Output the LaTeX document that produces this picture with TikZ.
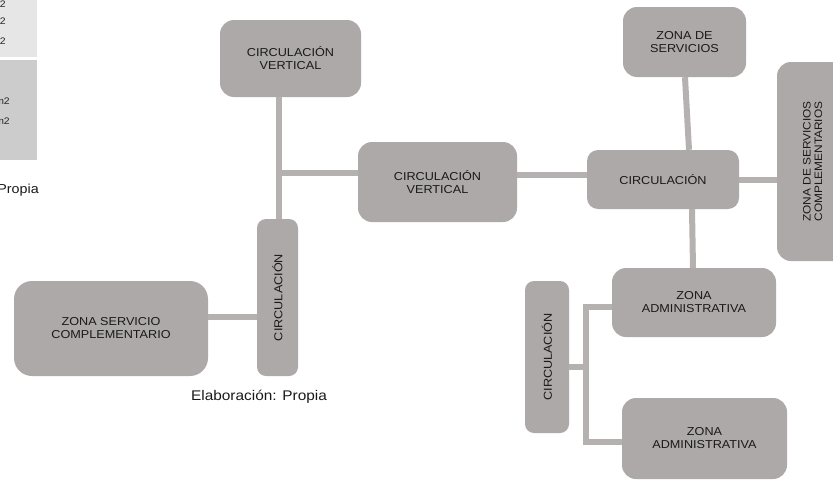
\documentclass[tikz,border=0pt]{standalone}
\usepackage{fontspec}
\setmainfont{Liberation Sans}[FakeStretch=1.1]
\usepackage{graphicx}
\definecolor{boxgray}{HTML}{ADA9A8}
\definecolor{linegray}{HTML}{B5B1B0}
\definecolor{tablelight}{HTML}{E6E6E6}
\definecolor{tabledark}{HTML}{CCCCCC}
\tikzset{
  zone/.style={fill=boxgray, draw=none, rounded corners=14pt, align=center,
    inner sep=0pt, font=\fontsize{11.5}{13}\selectfont, text=black!90},
  link/.style={draw=linegray, line width=6pt},
  caption/.style={font=\fontsize{14}{16}\selectfont, text=black!90},
  cell/.style={font=\fontsize{9.5}{11}\selectfont, text=black!85, anchor=east, inner sep=0pt}
}
\begin{document}
\begin{tikzpicture}[x=1pt,y=-1pt]
\useasboundingbox (0,0) rectangle (833,482);
\clip (0,0) rectangle (833,482);
% cropped table fragment
\fill[tablelight] (0,0) rectangle (37,57);
\fill[tabledark] (0,60) rectangle (37,160);
\node[cell] (t1) at (6,4) {m2};
\node[cell] (t2) at (6,21) {m2};
\node[cell] (t3) at (6,41) {m2};
\node[cell] (t4) at (10,101) {m2};
\node[cell] (t5) at (10,121) {m2};
\node[caption, font=\fontsize{13}{15}\selectfont, anchor=east, inner sep=0pt] (cap0) at (39,190) {Elaboración:~Propia};
% boxes
\node[zone, minimum width=141pt, minimum height=77pt] (A) at (290.5,58.5) {CIRCULACIÓN\\VERTICAL};
\node[zone, minimum width=159pt, minimum height=80pt] (B) at (437.5,182) {CIRCULACIÓN\\VERTICAL};
\node[zone, rounded corners=9pt, minimum width=41pt, minimum height=157pt] (C1) at (277.5,297.5) {\rotatebox{90}{CIRCULACIÓN}};
\node[zone, rounded corners=18pt, minimum width=194pt, minimum height=95pt] (D) at (111,328.5) {ZONA SERVICIO\\COMPLEMENTARIO};
\node[zone, rounded corners=11pt, minimum width=152pt, minimum height=59pt] (E) at (663,179.5) {CIRCULACIÓN};
\node[zone, minimum width=123pt, minimum height=70pt] (F) at (684.5,42) {ZONA DE\\SERVICIOS};
\node[zone, minimum width=74pt, minimum height=199pt, font=\fontsize{10.8}{11.5}\selectfont] (G) at (814,161.5) {\rotatebox{90}{\begin{tabular}{@{}c@{}}ZONA DE SERVICIOS\\COMPLEMENTARIOS\end{tabular}}};
\node[zone, minimum width=164pt, minimum height=69pt] (H) at (694,302.5) {ZONA\\ADMINISTRATIVA};
\node[zone, minimum width=165pt, minimum height=81pt] (I) at (704.5,438.5) {ZONA\\ADMINISTRATIVA};
\node[zone, rounded corners=9pt, minimum width=44pt, minimum height=152pt] (J) at (547,357) {\rotatebox{90}{CIRCULACIÓN}};
\node[caption] (cap) at (259,397) {Elaboración: Propia};
% connectors
\coordinate (jA) at (279,173);
\coordinate (jR) at (586,307);
\coordinate (jL) at (586,442);
\draw[link] (A.south -| jA) -- (C1.north -| jA);
\draw[link] (jA) -- (jA -| B.west);
\draw[link] (D.east |- 0,317) -- (C1.west |- 0,317);
\draw[link] (B.east |- 0,175) -- (E.west |- 0,175);
\draw[link] ([xshift=0.5pt]F.south) -- ([xshift=26pt]E.north);
\draw[link] (E.east) -- (G.west |- E.east);
\draw[link] ([xshift=29pt]E.south) -- ([xshift=-1pt]H.north);
\draw[link] (J.east |- 0,367) -- (jR |- 0,367);
\draw[link] (H.west |- jR) -- (jR) -- (jL) -- (I.west |- jL);
\end{tikzpicture}
\end{document}
